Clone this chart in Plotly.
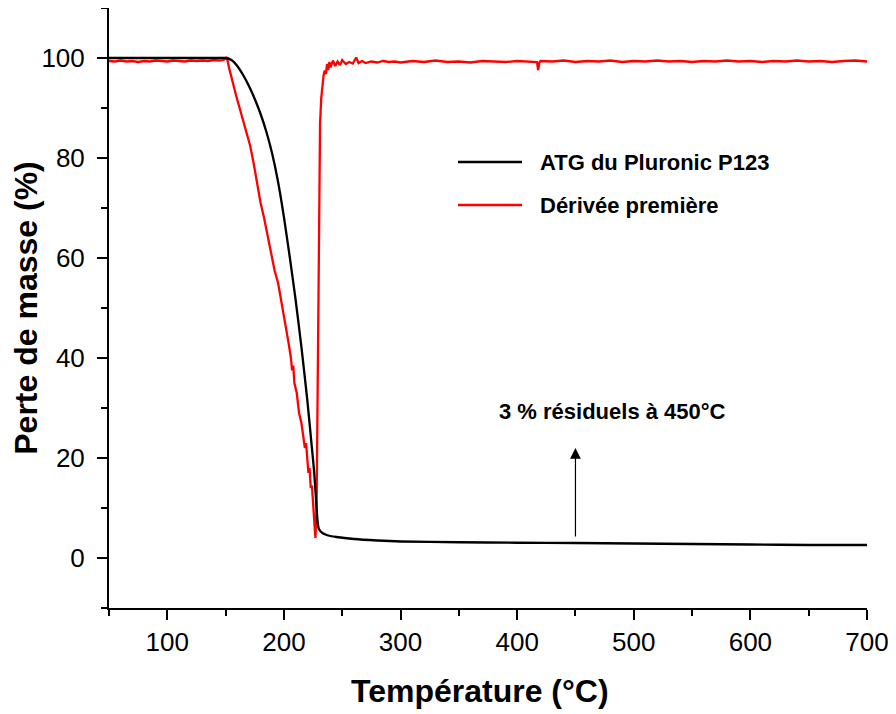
import plotly.graph_objects as go

# ---------------- data ----------------
atg_x = [50, 80, 100, 120, 140, 150, 155, 160, 165, 170, 175, 180, 185, 190, 195,
         200, 205, 210, 215, 220, 224, 226, 228, 229, 230, 233, 238, 245, 260,
         280, 300, 350, 400, 450, 500, 550, 600, 650, 700]
atg_y = [100, 100, 100, 100, 100, 100, 99.6, 98.4, 96.6, 94.4, 91.8, 88.8, 85.2, 80.8, 75.2,
         68.2, 60.2, 51.7, 42.2, 31.7, 22, 17, 10, 7, 5.8, 5, 4.5, 4.2, 3.8,
         3.5, 3.3, 3.15, 3.05, 3.0, 2.9, 2.8, 2.7, 2.6, 2.6]

der_x = [50, 55, 60, 65, 70, 75, 80, 85, 90, 95, 100, 105, 110, 115, 120, 125, 130, 135,
         140, 145, 149, 151, 153, 156, 159, 162, 165, 168, 171, 174, 177, 180, 183, 186,
         189, 192, 195, 198, 200, 202, 204, 206, 207, 208, 209, 211, 213, 215, 217, 218,
         219, 220, 221, 222, 223, 224, 225, 226, 227, 228, 229, 230, 231, 232, 233, 234,
         235, 236, 237, 238, 239, 240, 242, 244, 246, 248, 250, 253, 256, 259, 262, 264,
         267, 270, 275, 280, 285, 290, 295, 300, 310, 320, 330, 340, 350, 360, 370, 380,
         390, 400, 410, 415, 417, 418, 419, 420, 430, 440, 450, 460, 470, 480, 490, 500,
         510, 520, 530, 540, 550, 560, 570, 580, 590, 600, 610, 620, 630, 640, 650, 660,
         670, 680, 690, 700]
der_y = [99.4, 99.3, 99.5, 99.3, 99.4, 99.2, 99.4, 99.3, 99.5, 99.4, 99.3, 99.5, 99.4, 99.3,
         99.5, 99.4, 99.5, 99.4, 99.6, 99.5, 99.7, 100.2, 98, 95, 92.5, 90, 87.5, 85, 82.5,
         79, 75, 71, 68, 64.5, 60.5, 57.5, 55, 51, 49, 46, 43, 40, 37.5, 38.5, 35, 33, 29,
         27, 24, 22, 23, 19, 17, 18, 14, 14.5, 11, 8, 4, 10, 35, 70, 87, 92, 94.5, 96.5,
         97.5, 96.8, 98.8, 97.6, 99.2, 98.1, 99.5, 98.4, 99.3, 98.6, 99.6, 98.8, 99.2, 98.9,
         100.1, 99, 99.4, 99, 99.3, 99.1, 99.4, 99.2, 99.3, 99.1, 99.4, 99.2, 99.5, 99.2,
         99.3, 99.1, 99.4, 99.3, 99.2, 99.4, 99.3, 99.3, 99.2, 97.6, 99.0, 99.4, 99.3, 99.5,
         99.2, 99.4, 99.3, 99.5, 99.2, 99.4, 99.3, 99.5, 99.3, 99.4, 99.2, 99.4, 99.3, 99.5,
         99.3, 99.4, 99.2, 99.4, 99.3, 99.5, 99.3, 99.4, 99.2, 99.4, 99.5, 99.3, 99.4, 99.3]

series_names = ["ATG du Pluronic P123", "Dérivée première"]
series_colors = ["#000000", "#ff0000"]

x_ticks = [100, 200, 300, 400, 500, 600, 700]
y_ticks = [0, 20, 40, 60, 80, 100]

x_title = "Température (°C)"
y_title = "Perte de masse (%)"
annot_text = "3 % résiduels à 450°C"
annot_x, annot_y = 482, 29.3
arrow_x = 450
arrow_y0, arrow_y1 = 4, 22

FONT = "Liberation Sans, Arial, sans-serif"

fig = go.Figure()
fig.add_trace(go.Scatter(x=der_x, y=der_y, mode="lines", name=series_names[1],
                         line=dict(color=series_colors[1], width=2.3), showlegend=False))
fig.add_trace(go.Scatter(x=atg_x, y=atg_y, mode="lines", name=series_names[0],
                         line=dict(color=series_colors[0], width=2.3, shape="spline", smoothing=0.5),
                         showlegend=False))

axis_common = dict(
    showline=True, linecolor="black", linewidth=2, mirror=False,
    ticks="outside", ticklen=10, tickwidth=2, tickcolor="black",
    showgrid=False, zeroline=False, automargin=False,
    tickfont=dict(family=FONT, size=26, color="black"),
)

fig.update_xaxes(range=[50, 700], tickvals=x_ticks,
                 minor=dict(dtick=50, tick0=0, ticklen=6, tickwidth=2, tickcolor="black", ticks="outside"),
                 **axis_common)
fig.update_yaxes(range=[-10, 110], tickvals=y_ticks,
                 minor=dict(dtick=10, tick0=0, ticklen=6, tickwidth=2, tickcolor="black", ticks="outside"),
                 title=dict(text="<b>" + y_title + "</b>", font=dict(family=FONT, size=32, color="black"),
                            standoff=2),
                 ticklabelstandoff=7,
                 **axis_common)

# page body has an 8px offset; plot area on screen: x 109..867, y 8..608
OFF = 8
L, R, T, B = 109, 867, 8, 608
def px2paper(px, py):
    return (px - L) / (R - L), (B - py) / (B - T)

legend_rows = [(162, series_colors[0], series_names[0]), (205, series_colors[1], series_names[1])]
for py, col, name in legend_rows:
    x0, yy = px2paper(458, py)
    x1, _ = px2paper(522, py)
    fig.add_shape(type="line", xref="paper", yref="paper", x0=x0, x1=x1, y0=yy, y1=yy,
                  line=dict(color=col, width=2.5))
    tx, _ = px2paper(538, py)
    fig.add_annotation(xref="paper", yref="paper", x=tx, y=yy, xanchor="left", yanchor="middle",
                       text="<b>" + name + "</b>", showarrow=False,
                       font=dict(family=FONT, size=22, color="black"))

# x-axis title (slightly left of the plot centre, as in the original)
tx, ty = px2paper(480, 691)
fig.add_annotation(xref="paper", yref="paper", x=tx, y=ty, xanchor="center", yanchor="middle",
                   text="<b>" + x_title + "</b>", showarrow=False,
                   font=dict(family=FONT, size=32, color="black"))

fig.add_annotation(x=annot_x, y=annot_y, xref="x", yref="y", text="<b>" + annot_text + "</b>",
                   showarrow=False, font=dict(family=FONT, size=22, color="black"))
fig.add_annotation(x=arrow_x, y=arrow_y1, ax=arrow_x, ay=arrow_y0, xref="x", yref="y",
                   axref="x", ayref="y", text="", showarrow=True, arrowhead=2,
                   arrowsize=1.8, arrowwidth=1.2, arrowcolor="black")

W, H = 896, 714
fig.update_layout(
    width=W, height=H,
    margin=dict(l=L - OFF, r=W - (R - OFF), t=T - OFF, b=H - (B - OFF)),
    paper_bgcolor="white", plot_bgcolor="white",
    font=dict(family=FONT, color="black"),
    showlegend=False,
)

fig.write_html("out.html")
